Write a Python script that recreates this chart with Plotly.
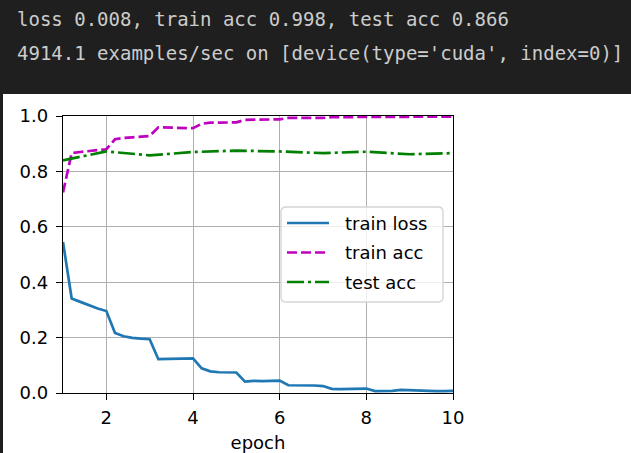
import plotly.graph_objects as go

# ---- data ----
epochs_batch = [1.0, 1.2, 1.4, 1.6, 1.8, 2.0, 2.2, 2.4, 2.6, 2.8, 3.0, 3.2, 3.4, 3.6, 3.8,
                4.0, 4.2, 4.4, 4.6, 4.8, 5.0, 5.2, 5.4, 5.6, 5.8, 6.0, 6.2, 6.4, 6.6, 6.8,
                7.0, 7.2, 7.4, 7.6, 7.8, 8.0, 8.2, 8.4, 8.6, 8.8, 9.0, 9.2, 9.4, 9.6, 9.8, 10.0]
train_loss = [0.545, 0.341, 0.329, 0.317, 0.305, 0.296, 0.217, 0.205, 0.199, 0.196, 0.194,
              0.122, 0.123, 0.124, 0.125, 0.125, 0.089, 0.078, 0.075, 0.075, 0.074,
              0.041, 0.044, 0.043, 0.044, 0.045, 0.028, 0.028, 0.027, 0.027, 0.025,
              0.015, 0.014, 0.015, 0.017, 0.016, 0.007, 0.007, 0.008, 0.011, 0.010,
              0.007, 0.007, 0.007, 0.007, 0.008]
train_acc = [0.724, 0.866, 0.870, 0.873, 0.876, 0.880, 0.916, 0.921, 0.923, 0.925, 0.928,
             0.959, 0.958, 0.957, 0.956, 0.956, 0.972, 0.976, 0.976, 0.977, 0.977,
             0.986, 0.986, 0.987, 0.987, 0.988, 0.993, 0.994, 0.993, 0.993, 0.993,
             0.996, 0.996, 0.996, 0.996, 0.995, 0.997, 0.997, 0.997, 0.997, 0.997,
             0.998, 0.998, 0.998, 0.998, 0.998]
epochs = [1, 2, 3, 4, 5, 6, 7, 8, 9, 10]
test_acc = [0.840, 0.872, 0.858, 0.870, 0.875, 0.872, 0.866, 0.871, 0.862, 0.866]

series_names = ["train loss", "train acc", "test acc"]
series_colors = ["#1f77b4", "#bf00bf", "#008000"]
series_dashes = ["solid", "10px,4px", "17px,4px,3px,4px"]

x_ticks = [2, 4, 6, 8, 10]
y_ticks = [0.0, 0.2, 0.4, 0.6, 0.8, 1.0]
header_lines = ["loss 0.008, train acc 0.998, test acc 0.866",
                "4914.1 examples/sec on [device(type='cuda', index=0)]"]

# ---- figure ----
W, H = 631, 453
ML, MR, MT, MB = 63, 178, 116, 60
PW, PH = W - ML - MR, H - MT - MB


def px_x(p):
    return (p - ML) / PW


def px_y(p):
    return (H - MB - p) / PH


LW = 2.7
fig = go.Figure()
for xs, ys, name, color, dash in zip([epochs_batch, epochs_batch, epochs],
                                     [train_loss, train_acc, test_acc],
                                     series_names, series_colors, series_dashes):
    fig.add_trace(go.Scatter(x=xs, y=ys, mode="lines", name=name, showlegend=False,
                             line=dict(color=color, width=LW, dash=dash)))

font = dict(family="DejaVu Sans", size=18, color="black")

shapes = [
    dict(type="rect", xref="paper", yref="paper", layer="below",
         x0=px_x(0), x1=px_x(W), y0=px_y(94), y1=px_y(0),
         fillcolor="#1f1f1f", line=dict(width=0)),
    dict(type="rect", xref="paper", yref="paper", layer="below",
         x0=px_x(0), x1=px_x(3), y0=px_y(H), y1=px_y(94),
         fillcolor="#1f1f1f", line=dict(width=0)),
]

# legend box with rounded corners (pixel geometry converted to paper units)
bx0, bx1, by0, by1, r = 281, 443, 207, 302, 5


def pt(px, py):
    return f"{px_x(px):.5f},{px_y(py):.5f}"


legend_path = (f"M{pt(bx0 + r, by0)} L{pt(bx1 - r, by0)} Q{pt(bx1, by0)} {pt(bx1, by0 + r)} "
               f"L{pt(bx1, by1 - r)} Q{pt(bx1, by1)} {pt(bx1 - r, by1)} "
               f"L{pt(bx0 + r, by1)} Q{pt(bx0, by1)} {pt(bx0, by1 - r)} "
               f"L{pt(bx0, by0 + r)} Q{pt(bx0, by0)} {pt(bx0 + r, by0)} Z")
shapes.append(dict(type="path", xref="paper", yref="paper", layer="above", path=legend_path,
                   fillcolor="rgba(255,255,255,0.8)", line=dict(color="#d5d5d5", width=1.4)))

annotations = [
    dict(text=header_lines[0], xref="paper", yref="paper", x=px_x(15), y=px_y(18.5),
         xanchor="left", yanchor="middle", showarrow=False,
         font=dict(family="DejaVu Sans Mono", size=19, color="#cccccc")),
    dict(text=header_lines[1], xref="paper", yref="paper", x=px_x(15), y=px_y(52.5),
         xanchor="left", yanchor="middle", showarrow=False,
         font=dict(family="DejaVu Sans Mono", size=19, color="#cccccc")),
]

entry_y = [223, 252.5, 282]
for name, color, dash, ey in zip(series_names, series_colors, series_dashes, entry_y):
    shapes.append(dict(type="line", xref="paper", yref="paper", layer="above",
                       x0=px_x(287), x1=px_x(329), y0=px_y(ey), y1=px_y(ey),
                       line=dict(color=color, width=LW, dash=dash)))
    annotations.append(dict(text=name, xref="paper", yref="paper", x=px_x(343), y=px_y(ey),
                            xanchor="left", yanchor="middle", showarrow=False, font=font))

fig.update_layout(
    width=W, height=H, autosize=False,
    margin=dict(l=ML, r=MR, t=MT, b=MB, pad=0, autoexpand=False),
    paper_bgcolor="white", plot_bgcolor="white",
    font=font,
    showlegend=False,
    xaxis=dict(range=[1, 10], tickvals=x_ticks, ticktext=[str(t) for t in x_ticks],
               showgrid=True, gridcolor="#b0b0b0", gridwidth=1.4,
               showline=True, linecolor="black", linewidth=1.4, mirror=True,
               ticks="outside", ticklen=6, tickwidth=1.4, tickcolor="black",
               ticklabelstandoff=2, automargin=False,
               zeroline=False, title=dict(text="epoch", font=font, standoff=10),
               tickfont=font),
    yaxis=dict(range=[0, 1], tickvals=y_ticks, ticktext=[f"{t:.1f}" for t in y_ticks],
               showgrid=True, gridcolor="#b0b0b0", gridwidth=1.4,
               showline=True, linecolor="black", linewidth=1.4, mirror=True,
               ticks="outside", ticklen=6, tickwidth=1.4, tickcolor="black",
               ticklabelstandoff=4, automargin=False,
               zeroline=False, tickfont=font),
    shapes=shapes,
    annotations=annotations,
)

fig.write_html("out.html",
               config={"responsive": False, "displayModeBar": False},
               post_script="document.body.style.margin='0';document.body.style.overflow='hidden';")
